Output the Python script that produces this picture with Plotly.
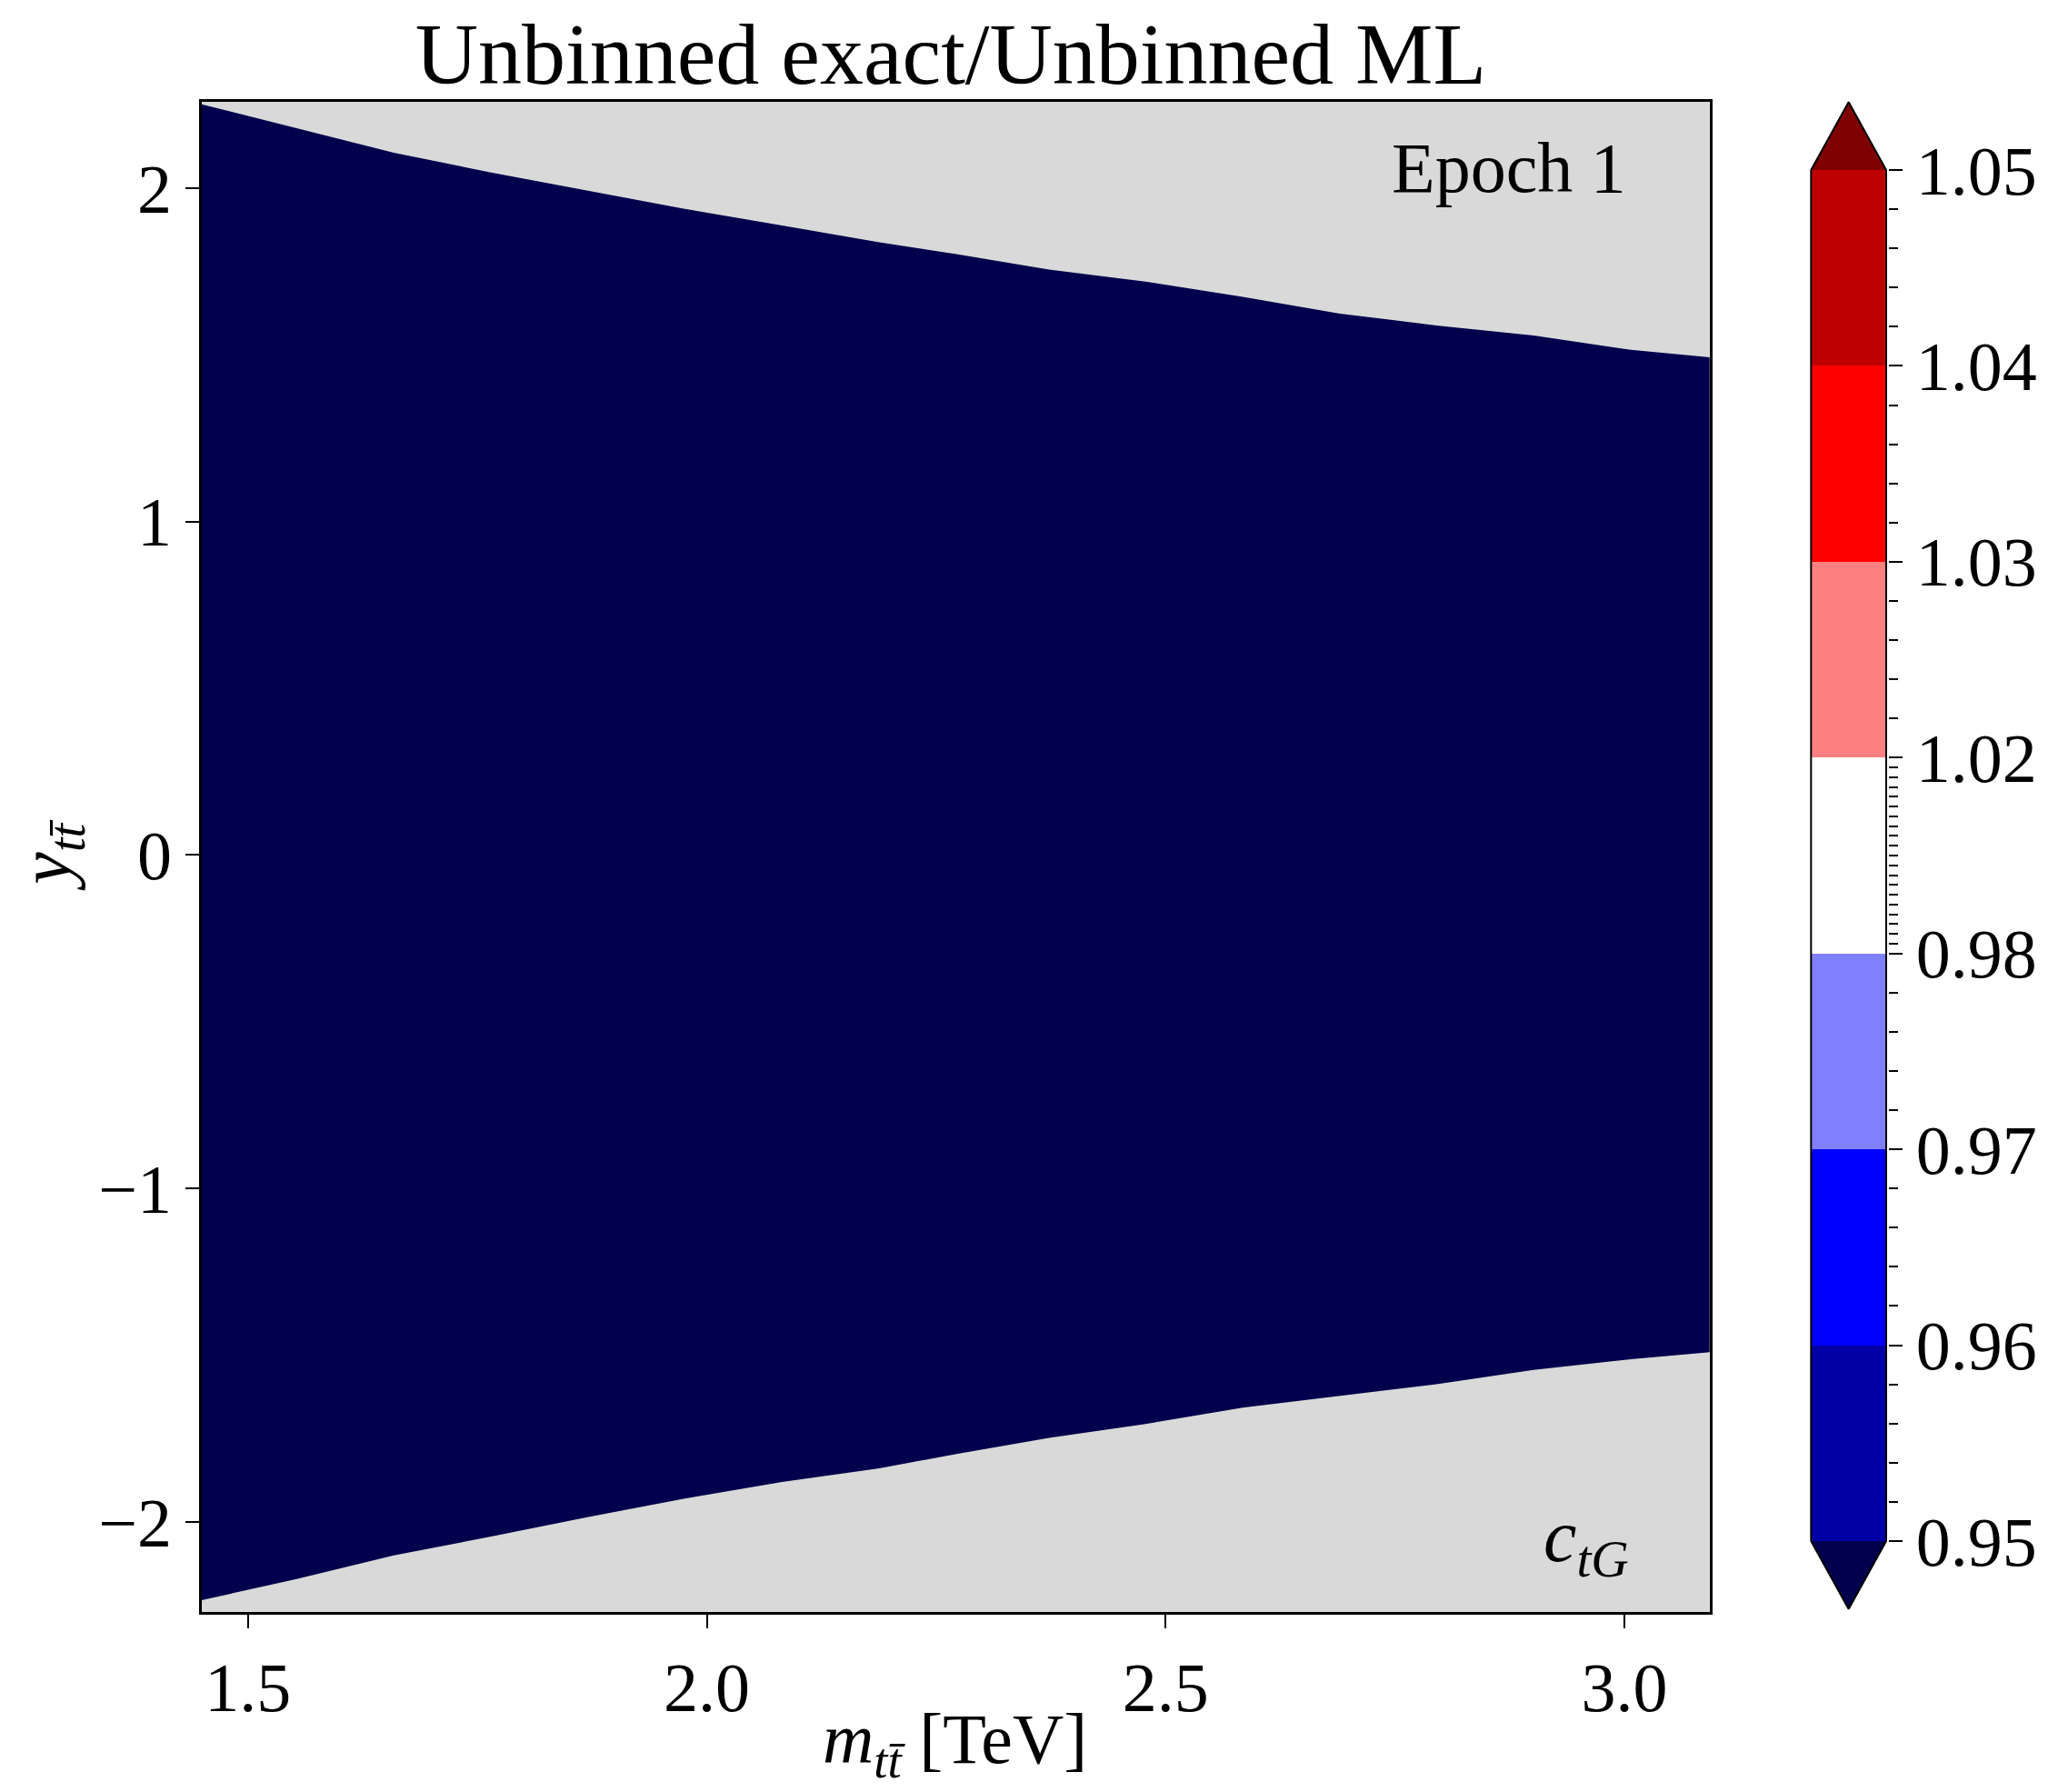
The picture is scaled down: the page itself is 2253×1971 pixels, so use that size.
import plotly.graph_objects as go

# ---------------- data ----------------
# kinematic boundary of the filled region (m_tt [TeV], y_tt)
m_upper = [1.449, 1.553, 1.659, 1.765, 1.871, 1.976, 2.082, 2.188, 2.272,
           2.373, 2.478, 2.584, 2.690, 2.795, 2.901, 3.007, 3.093]
y_upper = [2.252, 2.179, 2.106, 2.047, 1.992, 1.938, 1.888, 1.838, 1.802,
           1.756, 1.720, 1.674, 1.624, 1.588, 1.558, 1.515, 1.493]
m_lower = [1.449, 1.553, 1.659, 1.765, 1.871, 1.976, 2.082, 2.188, 2.272,
           2.373, 2.478, 2.584, 2.690, 2.795, 2.901, 3.007, 3.093]
y_lower = [-2.235, -2.171, -2.100, -2.044, -1.985, -1.930, -1.880, -1.839, -1.796,
           -1.748, -1.706, -1.657, -1.621, -1.587, -1.544, -1.512, -1.491]

# colour levels of the ratio (boundaries) and the colours
levels = [0.95, 0.96, 0.97, 0.98, 1.02, 1.03, 1.04, 1.05]
level_labels = ["0.95", "0.96", "0.97", "0.98", "1.02", "1.03", "1.04", "1.05"]
band_colors = ["#0000a6", "#0000ff", "#8080ff", "#ffffff", "#ff8080", "#ff0000", "#bf0000"]
under_color = "#00004c"
over_color = "#7f0000"
nan_color = "#d9d9d9"

x_ticks = [1.5, 2.0, 2.5, 3.0]
x_ticklabels = ["1.5", "2.0", "2.5", "3.0"]
y_ticks = [-2, -1, 0, 1, 2]
y_ticklabels = ["\u22122", "\u22121", "0", "1", "2"]

# ---------------- figure ----------------
W, H = 2253, 1971
ML, MR, MT, MB = 222, 166, 109, 198
PW = W - ML - MR
PH = H - MT - MB

FONT = "Liberation Serif"
fig = go.Figure()

# filled region (all cells below 0.95 -> "under" colour)
poly_x = m_upper + m_lower[::-1] + [m_upper[0]]
poly_y = y_upper + y_lower[::-1] + [y_upper[0]]
fig.add_trace(go.Scatter(x=poly_x, y=poly_y, mode="lines", fill="toself",
                         fillcolor=under_color, line=dict(width=0, color=under_color),
                         hoverinfo="skip", showlegend=False, xaxis="x", yaxis="y"))

# ---------------- colour bar as its own axes ----------------
nb = len(band_colors)
cs = []
for i, c in enumerate(band_colors):
    cs.append([i / nb, c])
    cs.append([(i + 1) / nb, c])
fig.add_trace(go.Heatmap(x=[0, 1], y=list(range(nb + 1)), z=[[i] for i in range(nb)],
                         zmin=-0.5, zmax=nb - 0.5, colorscale=cs, showscale=False,
                         hoverinfo="skip", xaxis="x2", yaxis="y2"))
tri = 0.347
fig.add_trace(go.Scatter(x=[0, 0.5, 1, 0], y=[nb, nb + tri, nb, nb], mode="lines", fill="toself",
                         fillcolor=over_color, line=dict(width=0), hoverinfo="skip",
                         showlegend=False, xaxis="x2", yaxis="y2"))
fig.add_trace(go.Scatter(x=[0, 0.5, 1, 0], y=[0, -tri, 0, 0], mode="lines", fill="toself",
                         fillcolor=under_color, line=dict(width=0), hoverinfo="skip",
                         showlegend=False, xaxis="x2", yaxis="y2"))
fig.add_trace(go.Scatter(x=[0, 0, 0.5, 1, 1, 0.5, 0], y=[0, nb, nb + tri, nb, 0, -tri, 0],
                         mode="lines", line=dict(width=2, color="black"), hoverinfo="skip",
                         showlegend=False, xaxis="x2", yaxis="y2"))

# minor ticks every 0.002 in value, placed in band-index units
minor_vals = []
for i in range(nb):
    lo, hi = levels[i], levels[i + 1]
    nsub = int(round((hi - lo) / 0.002))
    for k in range(1, nsub):
        minor_vals.append(i + k / nsub)

cb_x0 = (1999 - ML) / PW
cb_x1 = (2082 - ML) / PW
pad = 0.02
span = cb_x1 - cb_x0
d0 = cb_x0 - pad * span
d1 = min(1.0, cb_x1 + pad * span)
fig.update_layout(
    xaxis2=dict(domain=[d0, d1], range=[-pad, 1 + pad],
                visible=False, anchor="y2", fixedrange=True),
    yaxis2=dict(domain=[0, 1], range=[-tri - 0.015, nb + tri + 0.015], anchor="x2", side="right",
                tickmode="array", tickvals=list(range(nb + 1)), ticktext=level_labels,
                ticks="outside", ticklen=15, tickwidth=2, tickcolor="black",
                showline=False, showgrid=False, zeroline=False,
                tickfont=dict(family=FONT, size=76, color="black"),
                minor=dict(tickmode="array", tickvals=minor_vals, ticks="outside",
                           ticklen=10, tickwidth=1.5, tickcolor="black", showgrid=False)),
)

main_x1 = (1887 - ML) / PW
main_y1 = (1773 - 112) / PH
axis_common = dict(showline=True, linecolor="black", linewidth=2.5, mirror=True,
                   ticks="outside", ticklen=15, tickwidth=2, tickcolor="black",
                   showgrid=False, zeroline=False,
                   tickfont=dict(family=FONT, size=76, color="black"))
fig.update_layout(
    width=W, height=H,
    margin=dict(l=ML, r=MR, t=MT, b=MB, pad=0),
    paper_bgcolor="white",
    plot_bgcolor="white",
    showlegend=False,
    xaxis=dict(domain=[0, main_x1], range=[1.4497, 3.0928], tickmode="array",
               tickvals=x_ticks, ticktext=x_ticklabels, anchor="y", **axis_common),
    yaxis=dict(domain=[0, main_y1], range=[-2.270, 2.259], tickmode="array",
               tickvals=y_ticks, ticktext=y_ticklabels, anchor="x", **axis_common),
    title=dict(text="Unbinned exact/Unbinned ML", xref="paper", x=(1049 - ML) / PW,
               xanchor="center", yref="container", y=1 - 58 / H, yanchor="middle",
               font=dict(family=FONT, size=96, color="black")),
)

# grey background (masked cells) of the main panel only
fig.add_shape(type="rect", xref="x domain", yref="y domain", x0=0, x1=1, y0=0, y1=1,
              fillcolor=nan_color, line=dict(width=0), layer="below")

ann = []
ann.append(dict(text="<i>m</i><sub><i>t</i><i>t\u0304</i></sub> [TeV]", xref="paper", yref="paper",
                x=(1054 - ML) / PW, y=(1773 - 1918) / PH, xanchor="center", yanchor="middle",
                showarrow=False, font=dict(family=FONT, size=78, color="black")))
ann.append(dict(text="<i>y</i><sub><i>t</i><i>t\u0304</i></sub>", xref="paper", yref="paper",
                x=(55 - ML) / PW, y=(1773 - 941) / PH, xanchor="center", yanchor="middle",
                textangle=-90, showarrow=False, font=dict(family=FONT, size=80, color="black")))
ann.append(dict(text="Epoch 1", xref="paper", yref="paper",
                x=(1797 - ML) / PW, y=(1773 - 184) / PH, xanchor="right", yanchor="middle",
                showarrow=False, font=dict(family=FONT, size=78, color="black")))
ann.append(dict(text="<i>c</i><sub><i>tG</i></sub>", xref="paper", yref="paper",
                x=(1800 - ML) / PW, y=(1773 - 1695) / PH, xanchor="right", yanchor="middle",
                showarrow=False, font=dict(family=FONT, size=82, color="black")))
fig.update_layout(annotations=ann)

fig.write_html("out.html")
